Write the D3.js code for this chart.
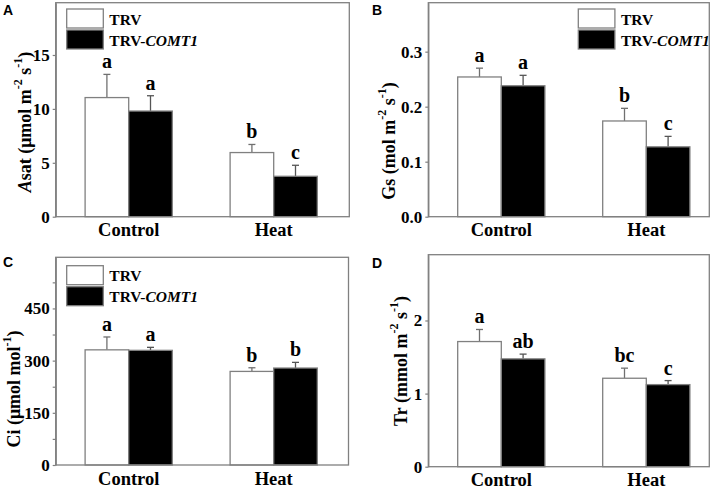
<!DOCTYPE html>
<html>
<head>
<meta charset="utf-8">
<script src="https://cdn.jsdelivr.net/npm/d3@7"></script>
<style>
  body { margin: 0; background: #fff; }
  svg { display: block; }
  text { font-family: "Liberation Serif", "Times New Roman", serif; font-weight: bold; fill: #000; }
</style>
</head>
<body>
<svg id="chart" width="720" height="490"></svg>
<script>
// ---- data ----
const categories = ["Control", "Heat"];
const seriesNames = ["TRV", "TRV-COMT1"];

const asatTRV = [11.05, 5.95];
const asatTRVErr = [2.15, 0.75];
const asatCOMT1 = [9.8, 3.75];
const asatCOMT1Err = [1.42, 1.02];
const asatLetters = [["a", "b"], ["a", "c"]];
const asatTicks = [0, 5, 10, 15];

const gsTRV = [0.254, 0.174];
const gsTRVErr = [0.016, 0.023];
const gsCOMT1 = [0.238, 0.127];
const gsCOMT1Err = [0.019, 0.019];
const gsLetters = [["a", "b"], ["a", "c"]];
const gsTicks = [0.0, 0.1, 0.2, 0.3];

const ciTRV = [331, 269];
const ciTRVErr = [37, 10.5];
const ciCOMT1 = [329.6, 278.7];
const ciCOMT1Err = [8.6, 16.3];
const ciLetters = [["a", "b"], ["a", "b"]];
const ciTicks = [0, 150, 300, 450];
const ciMinorTicks = [75, 225, 375, 525];

const trTRV = [1.712, 1.21];
const trTRVErr = [0.165, 0.138];
const trCOMT1 = [1.475, 1.123];
const trCOMT1Err = [0.065, 0.055];
const trLetters = [["a", "bc"], ["ab", "c"]];
const trTicks = [0, 1, 2];

// ---- layout ----
const svg = d3.select("#chart");
const frameColor = "#808080";

const panels = [
  { id: "A", left: 55.7, right: 349.3, top: 2.7, bottom: 216.7, ymax: 19.85,
    means: [asatTRV, asatCOMT1], errs: [asatTRVErr, asatCOMT1Err], letters: asatLetters,
    ticks: asatTicks, minor: null, fmt: d3.format("d"),
    title: [{t: "A", i: true}, {t: "sat (μmol m"}, {t: "-2", s: true}, {t: " s"}, {t: "-1", s: true}, {t: ")"}],
    titleX: 25, titleY: 122, legend: {x: 66.7, y: 9}, labelX: 3, labelY: 15 },
  { id: "B", left: 428.3, right: 709.3, top: 2.7, bottom: 216.7, ymax: 0.389,
    means: [gsTRV, gsCOMT1], errs: [gsTRVErr, gsCOMT1Err], letters: gsLetters,
    ticks: gsTicks, minor: null, fmt: d3.format(".1f"),
    title: [{t: "Gs (mol m"}, {t: "-2", s: true}, {t: " s"}, {t: "-1", s: true}, {t: ")"}],
    titleX: 389, titleY: 141, legend: {x: 578.3, y: 9}, labelX: 372, labelY: 15 },
  { id: "C", left: 55.7, right: 348.5, top: 257.3, bottom: 465, ymax: 597,
    means: [ciTRV, ciCOMT1], errs: [ciTRVErr, ciCOMT1Err], letters: ciLetters,
    ticks: ciTicks, minor: ciMinorTicks, fmt: d3.format("d"),
    title: [{t: "Ci (μmol mol"}, {t: "-1", s: true}, {t: ")"}],
    titleX: 14, titleY: 389, legend: {x: 66.7, y: 265.7}, labelX: 3, labelY: 267 },
  { id: "D", left: 428.3, right: 709.3, top: 254.7, bottom: 466.7, ymax: 2.9,
    means: [trTRV, trCOMT1], errs: [trTRVErr, trCOMT1Err], letters: trLetters,
    ticks: trTicks, minor: null, fmt: d3.format("d"),
    title: [{t: "Tr (mmol m"}, {t: "-2", s: true}, {t: " s"}, {t: "-1", s: true}, {t: ")"}],
    titleX: 401, titleY: 361, legend: null, labelX: 372, labelY: 268 }
];

const barW = 43.6;
const fills = ["#ffffff", "#000000"];

panels.forEach(p => {
  const g = svg.append("g");
  const y = d3.scaleLinear().domain([0, p.ymax]).range([p.bottom, p.top]);
  const x = d3.scalePoint().domain(categories).range([p.left + 73, p.left + 218]);

  // bars
  p.means.forEach((vals, si) => {
    categories.forEach((c, ci) => {
      const cx = x(c) + (si === 0 ? -barW / 2 : barW / 2);
      const v = vals[ci];
      const e = p.errs[si][ci];
      // error bar (upper only)
      g.append("line").attr("x1", cx).attr("x2", cx)
        .attr("y1", y(v)).attr("y2", y(v + e))
        .attr("stroke", si === 0 ? "#707070" : "#555").attr("stroke-width", 1.3);
      g.append("line").attr("x1", cx - 3.5).attr("x2", cx + 3.5)
        .attr("y1", y(v + e)).attr("y2", y(v + e))
        .attr("stroke", si === 0 ? "#707070" : "#555").attr("stroke-width", 1.3);
      g.append("rect")
        .attr("x", cx - barW / 2).attr("y", y(v))
        .attr("width", barW).attr("height", y(0) - y(v))
        .attr("fill", fills[si]).attr("stroke", frameColor).attr("stroke-width", 1.3);
      g.append("text")
        .attr("x", cx).attr("y", y(v + e) - 6)
        .attr("text-anchor", "middle").attr("font-size", 20)
        .text(p.letters[si][ci]);
    });
  });

  // frame
  g.append("rect").attr("x", p.left).attr("y", p.top)
    .attr("width", p.right - p.left).attr("height", p.bottom - p.top)
    .attr("fill", "none").attr("stroke", frameColor).attr("stroke-width", 1.3);

  // y axis
  const ax = g.append("g").attr("transform", `translate(${p.left},0)`)
    .call(d3.axisLeft(y).tickValues(p.ticks).tickFormat(p.fmt).tickSize(3).tickSizeOuter(0).tickPadding(3));
  ax.select(".domain").attr("stroke", frameColor).attr("stroke-width", 1.3);
  ax.selectAll(".tick line").attr("stroke", frameColor).attr("stroke-width", 1.2);
  ax.selectAll(".tick text").attr("font-size", 17).attr("font-family", "Liberation Serif").attr("font-weight", "bold").attr("fill", "#000");
  if (p.minor) {
    const mx = g.append("g").attr("transform", `translate(${p.left},0)`)
      .call(d3.axisLeft(y).tickValues(p.minor).tickFormat("").tickSize(3).tickSizeOuter(0));
    mx.select(".domain").remove();
    mx.selectAll(".tick line").attr("stroke", frameColor).attr("stroke-width", 1.2);
  }

  // x category labels
  categories.forEach(c => {
    g.append("text").attr("x", x(c)).attr("y", p.bottom + 19.5)
      .attr("text-anchor", "middle").attr("font-size", 18.5).text(c);
  });

  // y title
  const t = g.append("text")
    .attr("transform", `translate(${p.titleX},${p.titleY}) rotate(-90)`)
    .attr("text-anchor", "middle").attr("dominant-baseline", "central")
    .attr("font-size", 18);
  p.title.forEach(part => {
    const ts = t.append("tspan").text(part.t);
    if (part.i) ts.attr("font-style", "italic");
    if (part.s) ts.attr("font-size", 12).attr("baseline-shift", "super");
  });

  // panel label
  g.append("text").attr("x", p.labelX).attr("y", p.labelY)
    .attr("font-size", 14)
    .style("font-family", "'Liberation Sans', Arial, sans-serif")
    .text(p.id);

  // legend
  if (p.legend) {
    seriesNames.forEach((s, i) => {
      const ly = p.legend.y + i * 21;
      g.append("rect").attr("x", p.legend.x).attr("y", ly)
        .attr("width", 36.6).attr("height", 19)
        .attr("fill", fills[i]).attr("stroke", frameColor).attr("stroke-width", 1.3);
      const lt = g.append("text").attr("x", p.legend.x + 42.6).attr("y", ly + 15.5)
        .attr("font-size", 15.5);
      if (s.indexOf("-") >= 0) {
        const parts = s.split("-");
        lt.append("tspan").text(parts[0] + "-");
        lt.append("tspan").attr("font-style", "italic").text(parts[1]);
      } else {
        lt.text(s);
      }
    });
  }
});
</script>
</body>
</html>
